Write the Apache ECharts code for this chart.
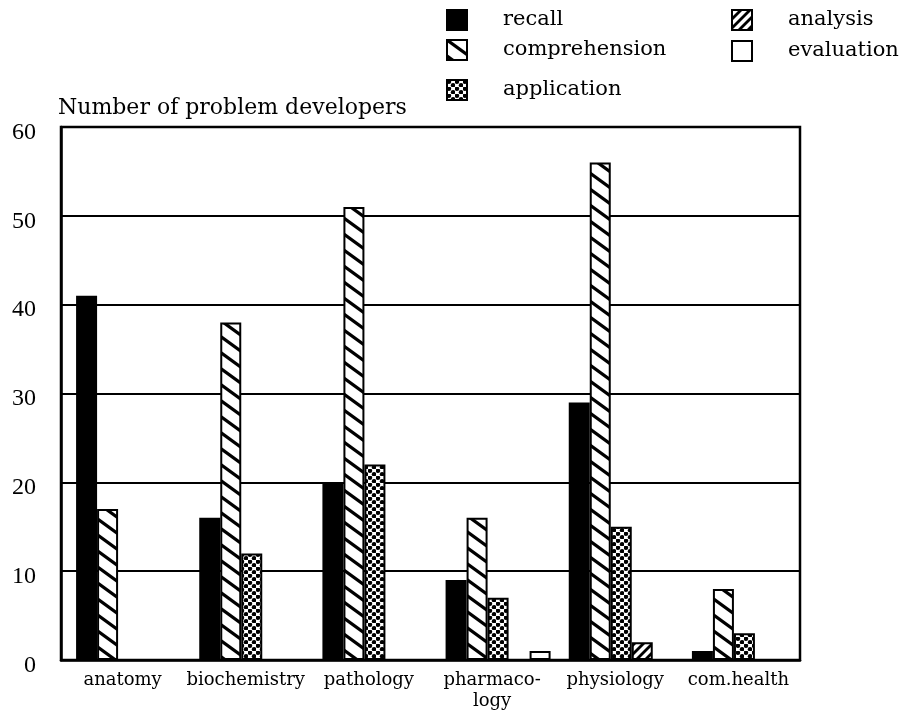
<!DOCTYPE html>
<html>
<head>
<meta charset="utf-8">
<script src="https://cdn.jsdelivr.net/npm/echarts@6/dist/echarts.min.js"></script>
<style>
  html, body { margin: 0; padding: 0; background: #fff; }
  #chart { width: 917px; height: 720px; }
</style>
</head>
<body>
<div id="chart"></div>
<script>
// data
var categories = ['anatomy', 'biochemistry', 'pathology', 'pharmaco-\nlogy', 'physiology', 'com.health'];
var recall = [41, 16, 20, 9, 29, 1];
var comprehension = [17, 38, 51, 16, 56, 8];
var application = [0, 12, 22, 7, 15, 3];
var analysis = [0, 0, 0, 0, 2, 0];
var evaluation = [0, 0, 0, 1, 0, 0];
var yTicks = [0, 10, 20, 30, 40, 50, 60];

var serif = '"DejaVu Serif", "Liberation Serif", serif';
var times = '"Liberation Serif", serif';

// hatch: lines of slope h/w repeated every h px vertically
function hatch(w, h, dir, lw) {
  var c = document.createElement('canvas');
  c.width = w; c.height = h;
  var ctx = c.getContext('2d');
  ctx.fillStyle = '#fff';
  ctx.fillRect(0, 0, w, h);
  ctx.strokeStyle = '#000';
  ctx.lineWidth = lw;
  for (var k = -2; k <= 2; k++) {
    ctx.beginPath();
    if (dir > 0) {
      ctx.moveTo(-w, -h + k * h);
      ctx.lineTo(2 * w, 2 * h + k * h);
    } else {
      ctx.moveTo(-w, 2 * h + k * h);
      ctx.lineTo(2 * w, -h + k * h);
    }
    ctx.stroke();
  }
  return c;
}

function dots() {
  var c = document.createElement('canvas');
  c.width = 8; c.height = 7;
  var ctx = c.getContext('2d');
  ctx.fillStyle = '#fff';
  ctx.fillRect(0, 0, 8, 7);
  ctx.fillStyle = '#000';
  [[2, 1.75], [6, 5.25]].forEach(function (p) {
    ctx.beginPath();
    ctx.arc(p[0], p[1], 2.2, 0, Math.PI * 2);
    ctx.fill();
  });
  return c;
}

var chart = echarts.init(document.getElementById('chart'));

function bar(name, data, fill, width) {
  return {
    name: name,
    type: 'bar',
    data: data,
    barWidth: width || 21,
    barGap: '0%',
    animation: false,
    itemStyle: {
      color: fill,
      borderColor: '#000',
      borderWidth: 2
    }
  };
}

function legendItem(name, left, center) {
  return {
    data: [name],
    left: left,
    top: center - 10,
    padding: 0,
    icon: 'rect',
    itemWidth: 20,
    itemHeight: 20,
    textStyle: { fontFamily: serif, fontSize: 21, lineHeight: 20, color: '#000', padding: [0, 0, 0, 31] }
  };
}

var option = {
  backgroundColor: '#fff',
  textStyle: { fontFamily: serif, color: '#000' },
  title: {
    text: 'Number of problem developers',
    left: 58,
    top: 97,
    padding: 0,
    textStyle: { fontFamily: serif, fontSize: 22, fontWeight: 'normal', color: '#000' }
  },
  legend: [
    legendItem('recall', 446, 19),
    legendItem('comprehension', 446, 49),
    legendItem('application', 446, 89),
    legendItem('analysis', 731, 19),
    legendItem('evaluation', 731, 50)
  ],
  grid: {
    left: 61,
    right: 117,
    top: 127,
    bottom: 60,
    show: true,
    borderColor: '#000',
    borderWidth: 2.5,
    backgroundColor: 'transparent'
  },
  xAxis: {
    type: 'category',
    data: categories,
    axisLine: { lineStyle: { color: '#000', width: 2.5 } },
    axisTick: { show: false },
    axisLabel: { fontFamily: serif, fontSize: 18, color: '#000', margin: 10, lineHeight: 21, interval: 0 }
  },
  yAxis: {
    type: 'value',
    min: yTicks[0],
    max: yTicks[yTicks.length - 1],
    interval: 10,
    axisLine: { show: true, lineStyle: { color: '#000', width: 2.5 } },
    axisTick: { show: false },
    axisLabel: { fontFamily: times, fontSize: 24, color: '#000', margin: 25, verticalAlign: 'top', lineHeight: 11 },
    splitLine: { lineStyle: { color: '#000', width: 1.8 } }
  },
  series: [
    // empty spacer: the original groups sit a little right of the band centre
    bar('', ['-', '-', '-', '-', '-', '-'], '#fff', 12),
    bar('recall', recall, '#000'),
    bar('comprehension', comprehension, { image: hatch(22, 16, 1, 3.2), repeat: 'repeat' }),
    bar('application', application, { image: dots(), repeat: 'repeat' }),
    bar('analysis', analysis, { image: hatch(9, 9, -1, 2.8), repeat: 'repeat' }),
    bar('evaluation', evaluation, '#fff')
  ]
};

chart.setOption(option);
</script>
</body>
</html>
